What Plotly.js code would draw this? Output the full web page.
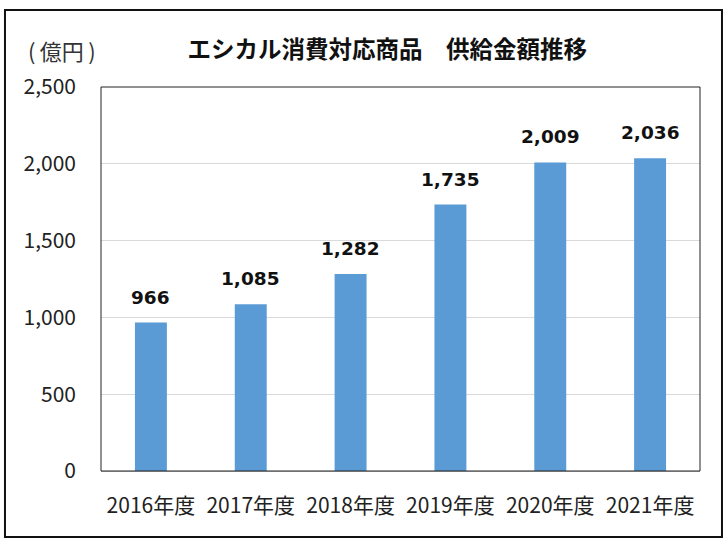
<!DOCTYPE html>
<html>
<head>
<meta charset="utf-8">
<script src="https://cdn.plot.ly/plotly-3.0.1.min.js"></script>
<style>
  html, body { margin: 0; padding: 0; background: #fff; }
  #chart { width: 728px; height: 547px; }
</style>
</head>
<body>
<div id="chart"></div>
<script>
// 供給金額 (億円)
var years = ["2016年度", "2017年度", "2018年度", "2019年度", "2020年度", "2021年度"];
var amounts = [966, 1085, 1282, 1735, 2009, 2036];
var yTicks = [0, 500, 1000, 1500, 2000, 2500];

var jpFont = "Noto Sans CJK JP, Noto Sans, sans-serif";

var trace = {
    x: years,
    y: amounts,
    type: "bar",
    marker: {color: "#5b9bd5"},
    hoverinfo: "skip"
};

// bold value labels above each bar
var labels = years.map(function (yr, i) {
    return {
        x: yr,
        y: amounts[i],
        text: amounts[i].toLocaleString("en-US"),
        showarrow: false,
        yanchor: "bottom",
        yshift: 13,
        font: {family: "DejaVu Sans, Verdana, sans-serif", size: 18.5, color: "#111", weight: "bold"}
    };
});

labels.push({
    xref: "paper", yref: "paper",
    x: -0.065, y: 1.096,
    xanchor: "center", yanchor: "middle",
    text: "(\u2009億円\u2009)",
    showarrow: false,
    font: {family: jpFont, size: 22, color: "#333"}
});

var layout = {
    width: 728,
    height: 547,
    margin: {l: 101, r: 28, t: 87, b: 76},
    paper_bgcolor: "#fff",
    plot_bgcolor: "#fff",
    showlegend: false,
    bargap: 0.68,
    title: {
        text: "<b>エシカル消費対応商品　供給金額推移</b>",
        x: 0.532,
        xanchor: "center",
        y: 0.909,
        yanchor: "middle",
        font: {family: jpFont, size: 23.5, color: "#111"}
    },
    xaxis: {
        type: "category",
        showgrid: false,
        showline: false,
        ticks: "",
        ticklabelstandoff: 20,
        tickfont: {family: jpFont, size: 21, color: "#222"}
    },
    yaxis: {
        range: [0, 2500],
        tickvals: yTicks,
        tickformat: ",",
        showgrid: true,
        gridcolor: "#d9d9d9",
        gridwidth: 1,
        zeroline: true,
        zerolinecolor: "#bfbfbf",
        showline: false,
        ticks: "",
        ticklabelstandoff: 24,
        tickfont: {family: jpFont, size: 21, color: "#222"}
    },
    annotations: labels,
    shapes: [
        // plot area frame
        {type: "rect", xref: "paper", yref: "paper", x0: 0, x1: 1, y0: 0, y1: 1,
         line: {color: "#222", width: 1}},
        // outer border
        {type: "rect", xref: "paper", yref: "paper", x0: -0.1603, x1: 1.0367, y0: -0.1719, y1: 1.2005,
         line: {color: "#111", width: 2}}
    ]
};

Plotly.newPlot("chart", [trace], layout, {displayModeBar: false, staticPlot: true});
</script>
</body>
</html>
